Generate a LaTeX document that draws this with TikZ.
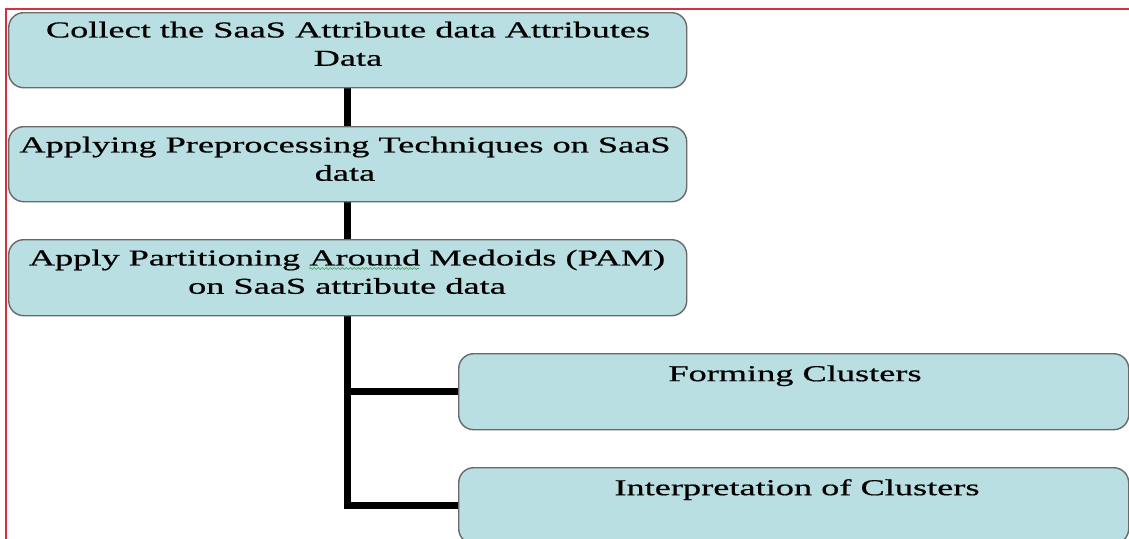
\documentclass[tikz,border=0pt]{standalone}
\usepackage{fontspec}
\setmainfont{Liberation Serif}[FakeStretch=1.6,FakeBold=0.6]
\usetikzlibrary{decorations.pathmorphing,backgrounds}
\definecolor{boxfill}{RGB}{185,223,226}
\definecolor{boxline}{RGB}{105,105,105}
\definecolor{framered}{RGB}{212,50,60}
\definecolor{spellgreen}{RGB}{40,170,60}
\tikzset{
  box/.style={draw=boxline, line width=1.4pt, fill=boxfill, rounded corners=15pt, anchor=north west, inner sep=0pt},
  txt/.style={font=\fontsize{22.7}{28.3}\selectfont, align=center, inner sep=0pt, anchor=north, text=black},
  conn/.style={line width=6.5pt, black, line join=miter},
  frameline/.style={line width=1.8pt, framered}
}
\begin{document}
\begin{tikzpicture}[x=1pt,y=-1pt]
\clip (0,0) rectangle (1129,538);
% frame
\draw[frameline] (6,560) -- (6,9) -- (1140,9);
% boxes
\node[box, minimum width=678pt, minimum height=75pt] (b1) at (8,12) {};
\node[box, minimum width=678pt, minimum height=75pt] (b2) at (8,126) {};
\node[box, minimum width=678pt, minimum height=76pt] (b3) at (8,239) {};
\node[box, minimum width=670pt, minimum height=76pt] (b4) at (458,353) {};
\node[box, minimum width=670pt, minimum height=76pt] (b5) at (458,467) {};
% connectors
\begin{scope}[on background layer]
\draw[conn] (b1.south) -- (b2.north);
\draw[conn] (b2.south) -- (b3.north);
\draw[conn] (b3.south) |- (b5.west);
\draw[conn] (b3.south |- b4.west) -- (b4.west);
\end{scope}
% texts
\node[txt] (t1) at (348,21.5) {Collect the SaaS Attribute data Attributes\\Data};
\node[txt] (t2) at (345,136.5) {Applying Preprocessing Techniques on SaaS\\data};
\node[txt] (t3) at (347,249.5) {Apply Partitioning Around Medoids (PAM)\\on SaaS attribute data};
\node[txt] (t4) at (795,365.2) {Forming Clusters};
\node[txt] (t5) at (797,479) {Interpretation of Clusters};
% spell-check squiggle
\draw[spellgreen, line width=0.6pt, decorate, decoration={snake, amplitude=0.9pt, segment length=4pt}] (309,268.5) -- (419,268.5);
\end{tikzpicture}
\end{document}
